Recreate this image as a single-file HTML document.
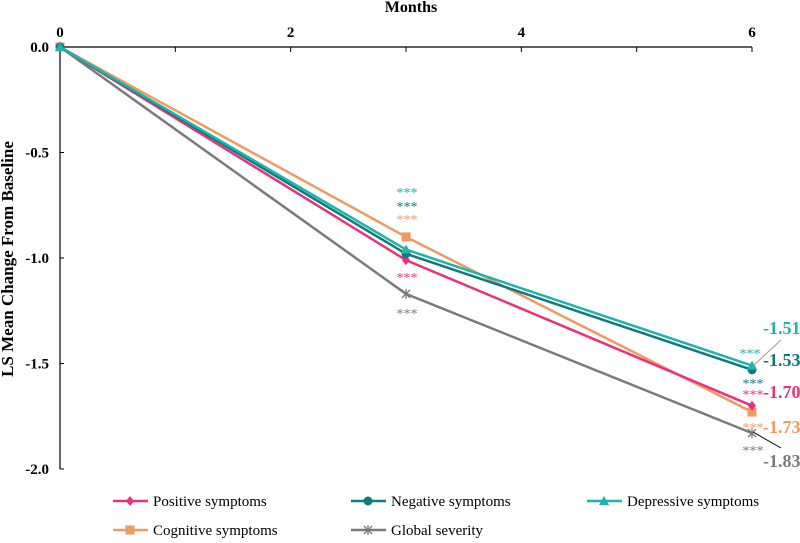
<!DOCTYPE html>
<html><head><meta charset="utf-8"><style>
body{margin:0;background:#fff}
svg, svg text{font-family:"Liberation Serif","Times New Roman",serif}
</style></head><body>
<svg id="chart" width="800" height="538" viewBox="0 0 800 538" xmlns="http://www.w3.org/2000/svg" font-family="Liberation Serif, serif">
<text x="411" y="12" text-anchor="middle" font-size="16" font-weight="bold">Months</text>
<text transform="translate(13,259) rotate(-90)" text-anchor="middle" font-size="17" font-weight="bold">LS Mean Change From Baseline</text>
<g id="axes"></g><g id="series"></g><g id="annot"></g><g id="legend"></g>
</svg>
<script>
const months=[0,3,6];
const seriesNames=["Positive symptoms","Negative symptoms","Depressive symptoms","Cognitive symptoms","Global severity"];
const positive=[0,-1.01,-1.70];
const negative=[0,-0.98,-1.53];
const depressive=[0,-0.96,-1.51];
const cognitive=[0,-0.90,-1.73];
const globalSev=[0,-1.17,-1.83];
const xTicks=[0,2,4,6];
const yTicks=[0,-0.5,-1.0,-1.5,-2.0];
const endLabels=["-1.70","-1.53","-1.51","-1.73","-1.83"];
const NS="http://www.w3.org/2000/svg";
const colors=["#e8327a","#0f7a7e","#1cb5ac","#ee9b62","#7a7a7a"];
const markers=["diamond","circle","triangle","square","star"];
const data=[positive,negative,depressive,cognitive,globalSev];
const X=v=>60+v*(752-60)/6;
const Y=v=>47+(-v)*(469-47)/2;
function el(t,a,p){const e=document.createElementNS(NS,t);for(const k in a)e.setAttribute(k,a[k]);p.appendChild(e);return e;}
const axes=document.getElementById('axes');
let l=el('line',{x1:60,y1:47,x2:752,y2:47,stroke:'#000','stroke-width':1.2},axes);


l=el('line',{x1:60,y1:47,x2:60,y2:469,stroke:'#000','stroke-width':1.2},axes);


for(let m=0;m<=6;m++){el('line',{x1:X(m),y1:47,x2:X(m),y2:52,stroke:'#000'},axes);}
xTicks.forEach(t=>{const e=el('text',{x:X(t),y:37,'text-anchor':'middle','font-size':15,'font-weight':'bold'},axes);e.textContent=t;

});
yTicks.forEach(t=>{el('line',{x1:60,y1:Y(t),x2:64,y2:Y(t),stroke:'#000'},axes);
const e=el('text',{x:49,y:Y(t)+5,'text-anchor':'end','font-size':15,'font-weight':'bold'},axes);e.textContent=t.toFixed(1);

});
function marker(type,x,y,c,g){
 if(type==='diamond')return el('polygon',{points:`${x},${y-5} ${x+4},${y} ${x},${y+5} ${x-4},${y}`,fill:c},g);
 if(type==='circle')return el('circle',{cx:x,cy:y,r:4.5,fill:c},g);
 if(type==='triangle')return el('polygon',{points:`${x},${y-5} ${x+5},${y+4} ${x-5},${y+4}`,fill:c},g);
 if(type==='square')return el('rect',{x:x-4.5,y:y-4.5,width:9,height:9,fill:c},g);
 const s=el('g',{stroke:c,'stroke-width':1.3},g);
 el('line',{x1:x-4,y1:y-4,x2:x+4,y2:y+4},s);el('line',{x1:x-4,y1:y+4,x2:x+4,y2:y-4},s);el('line',{x1:x,y1:y-5,x2:x,y2:y+5},s);return s;
}
const sg=document.getElementById('series');
const order=[4,3,0,1,2];
order.forEach(i=>{
 const pts=months.map((m,j)=>X(m)+','+Y(data[i][j])).join(' ');
 const p=el('polyline',{points:pts,fill:'none',stroke:colors[i],'stroke-width':2.5},sg);
 
 
 months.forEach((m,j)=>{const mk=marker(markers[i],X(m),Y(data[i][j]),colors[i],sg);
 
 });
});
const an=document.getElementById('annot');
function txt(s,x,y,c,size,bold,anchor){const e=el('text',{x:x,y:y,fill:c,'font-size':size,'font-weight':bold?'bold':'normal','text-anchor':anchor||'middle'},an);e.textContent=s;return e;}
[[2,191],[1,205],[3,218],[0,276],[4,312]].forEach(([i,y])=>{const e=txt('***',407,y+6,colors[i],14,false);

});
[[2,750,352],[1,753,382],[0,753,393],[3,753,426],[4,753,449]].forEach(([i,x,y])=>{const e=txt('***',x,y+6,colors[i],14,false);

});
el('line',{x1:754,y1:365,x2:781,y2:340,stroke:'#999','stroke-width':1},an);
el('line',{x1:753,y1:432,x2:781,y2:448,stroke:'#000','stroke-width':1},an);
[[2,334],[1,366],[0,398],[3,433],[4,467]].forEach(([i,y])=>{const e=txt(endLabels[i],763,y,colors[i],18,true,'start');

});
const lg=document.getElementById('legend');
const pos=[[113,501],[351,501],[587,501],[113,530],[351,530]];
seriesNames.forEach((n,i)=>{
 const g=el('g',{},lg);
 
 
 const [x,y]=pos[i];
 el('line',{x1:x,y1:y,x2:x+35,y2:y,stroke:colors[i],'stroke-width':2.5},g);
 marker(markers[i],x+17,y,colors[i],g);
 const t=el('text',{x:x+40,y:y+5,'font-size':15},g);t.textContent=n;
});
</script>
</body></html>
